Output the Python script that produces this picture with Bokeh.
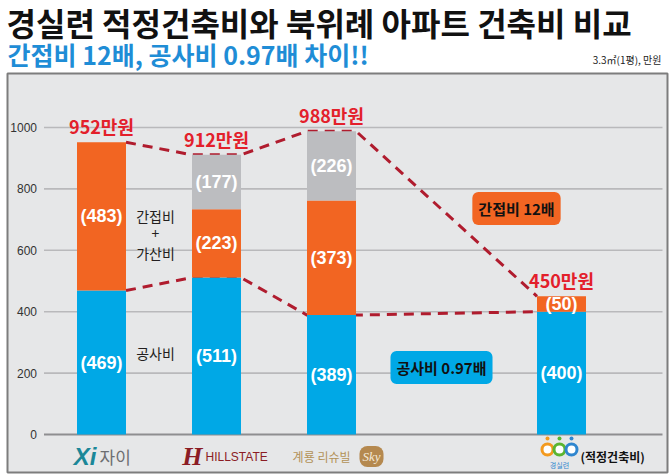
import numpy as np
from bokeh.plotting import figure
from bokeh.models import Range1d, Label
from bokeh.core.properties import value
from bokeh.embed import file_html
from bokeh.resources import INLINE

# ---------------- data ----------------
brands = ["자이", "힐스테이트", "계룡 리슈빌", "경실련"]
slot_layout = ["자이", "힐스테이트", "계룡 리슈빌", "", "경실련"]  # empty slot = gap
construction = [469, 511, 389, 400]      # 공사비
indirect = [483, 223, 373, 50]           # 간접비 (+가산비)
extra = [0, 177, 226, 0]                 # 가산비 (gray)
total_labels = ["952만원", "912만원", "988만원", "450만원"]
y_ticks = [0, 200, 400, 600, 800, 1000]

title_text = "경실련 적정건축비와 북위례 아파트 건축비 비교"
subtitle_text = "간접비 12배, 공사비 0.97배 차이!!"
unit_text = "3.3㎡(1평), 만원"

KR = "Noto Sans CJK KR"
LAT = "Liberation Sans"
BLUE = "#00a8e6"
ORANGE = "#f26522"
GRAY = "#bcbdc0"
RED = "#e3202b"
DASH = "#b01c2e"

W, H = 670, 474
# layout geometry (pixel -> data helpers)
SLOT0_PX, SLOT_PX, ZERO_PY, PX_PER_UNIT = 101.0, 115.0, 434.0, 0.307
def X(px):
    return (px - SLOT0_PX) / SLOT_PX
def Y(py):
    return (ZERO_PY - py) / PX_PER_UNIT

xs = np.array([slot_layout.index(b) for b in brands], dtype=float)
c = np.array(construction, dtype=float)
ind = np.array(indirect, dtype=float)
ex = np.array(extra, dtype=float)
tops = c + ind + ex
bw = 0.426

p = figure(width=W, height=H, x_range=Range1d(X(0), X(W)), y_range=Range1d(Y(H), Y(0)),
           output_backend="svg", toolbar_location=None,
           x_axis_location=None, y_axis_location=None,
           min_border_left=0, min_border_right=0, min_border_top=0, min_border_bottom=0)
p.grid.visible = False
p.background_fill_color = "white"
p.border_fill_color = "white"
p.outline_line_color = None

# chart panel box
p.quad(left=[X(7)], right=[X(667)], top=[Y(73)], bottom=[Y(472)],
       fill_color="#e6e7e8", line_color="#7d7d7d", line_width=2)

# grid lines and tick labels
gx1 = X(662)
gt = [t for t in y_ticks if t != 0]
p.segment(x0=[-0.5] * len(gt), x1=[gx1] * len(gt), y0=gt, y1=gt, line_color="#b9b9bb", line_width=1.6)
p.segment(x0=[-0.5], x1=[gx1], y0=[0], y1=[0], line_color="#8e8e90", line_width=2)
p.text(x=[-0.5] * len(y_ticks), y=y_ticks, text=[str(t) for t in y_ticks], x_offset=-7,
       text_align="right", text_baseline="middle", text_font=value(LAT),
       text_font_size="12px", text_color="#333333")

# dashed connecting lines (drawn under bars)
def conn(vals):
    lx, ly = [], []
    n = len(xs)
    for i in range(n):
        if i > 0:
            lx.append(xs[i] - bw / 2); ly.append(vals[i])
        if i < n - 1:
            lx.append(xs[i] + bw / 2); ly.append(vals[i])
    return lx, ly

lx, ly = conn(tops)
p.line(lx, ly, line_color=DASH, line_width=3, line_dash="10 7")
lx, ly = conn(c)
p.line(lx, ly, line_color=DASH, line_width=3, line_dash="10 7")

# stacked bars
p.vbar(x=xs, width=bw, bottom=0, top=c, fill_color=BLUE, line_color=None)
p.vbar(x=xs, width=bw, bottom=c, top=c + ind, fill_color=ORANGE, line_color=None)
m = ex > 0
p.vbar(x=xs[m], width=bw, bottom=(c + ind)[m], top=tops[m], fill_color=GRAY, line_color=None)

# segment value labels
sx, sy, st = [], [], []
for i in range(len(xs)):
    base = 0.0
    for v in (c[i], ind[i], ex[i]):
        if v > 0:
            sx.append(xs[i]); sy.append(base + v / 2); st.append("(%d)" % v)
        base += v
p.text(x=sx, y=sy, text=st, text_align="center", text_baseline="middle",
       text_font=value(LAT), text_font_size="18px", text_font_style="bold", text_color="white")

# totals
p.text(x=xs, y=tops, text=total_labels, y_offset=-16, text_align="center", text_baseline="middle",
       text_font=value(KR), text_font_size="18px", text_font_style="bold", text_color=RED)

# series names beside first bar
for t, py in [("간접비", 215), ("+", 233), ("가산비", 252), ("공사비", 352)]:
    p.add_layout(Label(x=X(155), y=Y(py), text=t, text_align="center", text_baseline="middle",
                       text_font=KR, text_font_size="14px", text_color="#231f20"))

# callout boxes
p.add_layout(Label(x=X(516), y=Y(208), text="간접비 12배", text_align="center", text_baseline="middle",
                   text_font=KR, text_font_size="15px", text_font_style="bold", text_color="#111111",
                   background_fill_color=ORANGE, border_radius=6, padding=6))
p.add_layout(Label(x=X(441), y=Y(367), text="공사비 0.97배", text_align="center", text_baseline="middle",
                   text_font=KR, text_font_size="15px", text_font_style="bold", text_color="#111111",
                   background_fill_color=BLUE, border_radius=6, padding=6))

# titles
p.add_layout(Label(x=X(6), y=Y(21), text=title_text,
                   text_font=KR, text_font_size="32px", text_font_style="bold", text_color="#111111",
                   text_align="left", text_baseline="middle"))
p.add_layout(Label(x=X(7), y=Y(53), text=subtitle_text,
                   text_font=KR, text_font_size="25px", text_font_style="bold", text_color="#1f8dd6",
                   text_align="left", text_baseline="middle"))
p.add_layout(Label(x=X(661), y=Y(59), text=unit_text,
                   text_font=KR, text_font_size="10px", text_color="#222222",
                   text_align="right", text_baseline="middle"))

# brand "logos" under the bars
LY = Y(456)
p.text(x=[xs[0]], y=[LY], text=["Xi"], x_offset=-5, text_align="right", text_baseline="middle",
       text_font=value(LAT), text_font_size="24px", text_font_style="bold italic", text_color="#1b8798")
p.text(x=[xs[0]], y=[LY], text=[brands[0]], x_offset=-2, text_align="left", text_baseline="middle",
       text_font=value(KR), text_font_size="17px", text_color="#6d6e71")
p.text(x=[xs[1]], y=[LY], text=["H"], x_offset=-14, text_align="right", text_baseline="middle",
       text_font=value("Liberation Serif"), text_font_size="26px", text_font_style="bold italic",
       text_color="#8b1c24")
p.text(x=[xs[1]], y=[LY], text=["HILLSTATE"], x_offset=-11, text_align="left", text_baseline="middle",
       text_font=value(LAT), text_font_size="12px", text_color="#8b1c24")
p.text(x=[xs[2]], y=[LY], text=[brands[2]], x_offset=19, text_align="right", text_baseline="middle",
       text_font=value(KR), text_font_size="12px", text_color="#b39257")
p.add_layout(Label(x=xs[2], y=LY, x_offset=40, text="Sky", text_align="center", text_baseline="middle",
                   text_font="Liberation Serif", text_font_size="13px", text_font_style="italic",
                   text_color="#f4ead8", background_fill_color="#b5894f", border_radius=8, padding=3))
ring_dx = np.array([-14, -2, 10]) / SLOT_PX
ring_col = ["#f39a1e", "#5bb531", "#2f86cf"]
p.scatter(x=xs[3] + ring_dx, y=[Y(449)] * 3, size=11, fill_color="white", line_color=ring_col, line_width=3)
p.scatter(x=xs[3] + ring_dx, y=[Y(438)] * 3, size=4, fill_color=ring_col, line_color=None)
p.text(x=[xs[3]], y=[Y(464)], text=["경실련"], x_offset=-2, text_align="center", text_baseline="middle",
       text_font=value(KR), text_font_size="7px", text_color="#2f86cf")
p.text(x=[xs[3]], y=[LY], text=["(적정건축비)"], x_offset=19, text_align="left", text_baseline="middle",
       text_font=value(KR), text_font_size="12px", text_font_style="bold", text_color="#111111")

open("out.html", "w").write(file_html(p, INLINE))
